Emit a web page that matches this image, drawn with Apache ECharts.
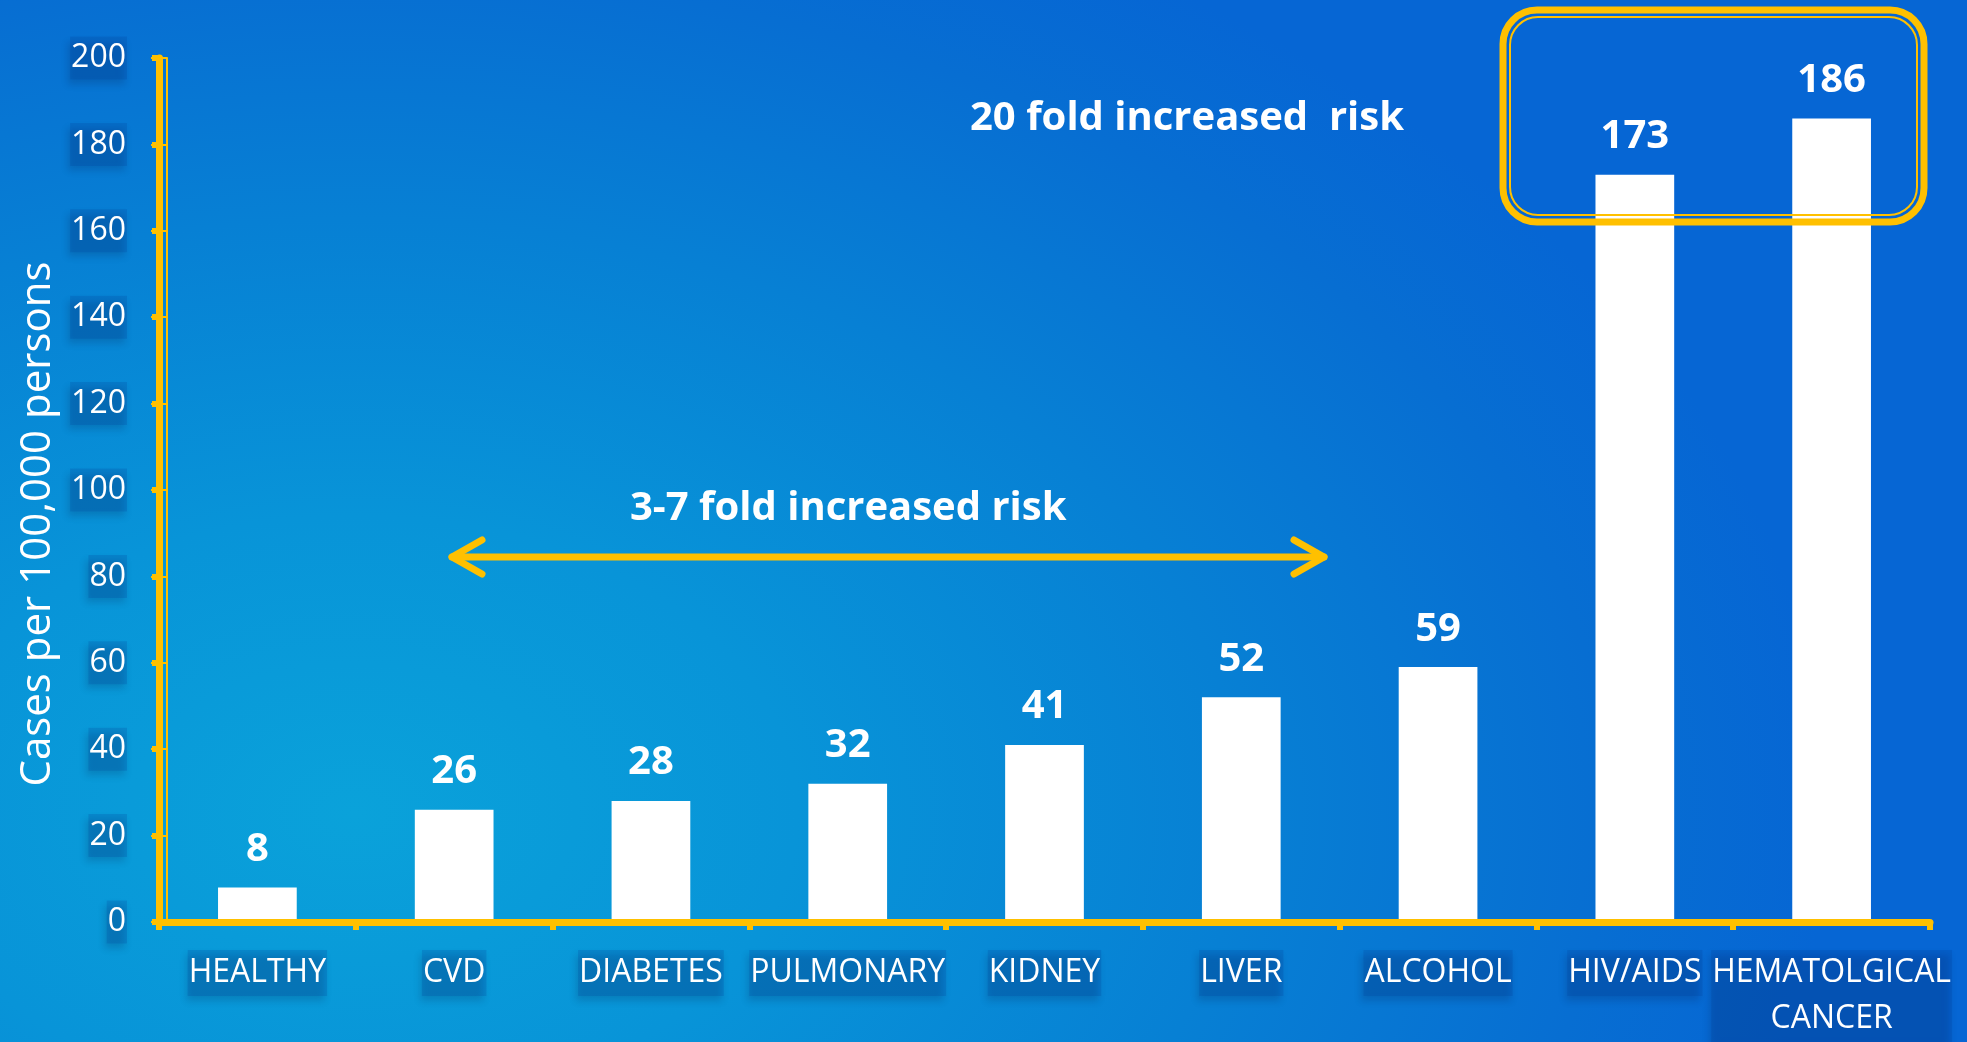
<!DOCTYPE html>
<html>
<head>
<meta charset="utf-8">
<script src="https://cdn.jsdelivr.net/npm/echarts@6/dist/echarts.min.js"></script>
<style>
html,body{margin:0;padding:0;width:1967px;height:1042px;overflow:hidden;}
body{background: radial-gradient(ellipse 75% 95% at 18% 78%, #0aa2da 0%, #0894d8 30%, #0780d4 60%, #076ed2 85%, #0666d4 100%);}
#chart{width:1967px;height:1042px;}
</style>
</head>
<body>
<div id="chart"></div>
<script>
const categories = ['HEALTHY','CVD','DIABETES','PULMONARY','KIDNEY','LIVER','ALCOHOL','HIV/AIDS','HEMATOLGICAL\nCANCER'];
const cases = [8, 26, 28, 32, 41, 52, 59, 173, 186];
const yTicks = {min: 0, max: 200, interval: 20};
const yTitle = 'Cases per 100,000 persons';
const note20 = '20 fold increased  risk';
const note37 = '3-7 fold increased risk';

const YEL = '#FFC000';
const FONT = '"Open Sans", sans-serif';
const boxStyle = {
  backgroundColor: 'rgba(0,60,150,0.2)',
  shadowColor: 'rgba(0,20,60,0.85)',
  shadowBlur: 7,
  shadowOffsetX: -2,
  shadowOffsetY: 5
};

const chart = echarts.init(document.getElementById('chart'), null, {renderer: 'canvas'});
chart.setOption({
  backgroundColor: 'transparent',
  animation: false,
  grid: {left: 159, right: 37, top: 58, bottom: 113},
  xAxis: [{
    type: 'category', data: categories,
    axisLine: {lineStyle: {color: YEL, width: 7}},
    axisTick: {show: true, length: 8, lineStyle: {color: YEL, width: 6}},
    axisLabel: Object.assign({
      interval: 0, color: '#fff', fontFamily: FONT, fontSize: 32, lineHeight: 46,
      margin: 28, padding: [0, 1, 0, 1]
    }, boxStyle),
    z: 3
  }, {
    type: 'category', data: categories, position: 'bottom', offset: 7,
    axisLine: {lineStyle: {color: YEL, width: 2}},
    axisTick: {show: true, length: 6, lineStyle: {color: YEL, width: 2}},
    axisLabel: {show: false}
  }],
  yAxis: [{
    type: 'value', min: yTicks.min, max: yTicks.max, interval: yTicks.interval,
    name: yTitle, nameLocation: 'middle', nameRotate: 90, nameGap: 100,
    nameTextStyle: {color: '#fff', fontFamily: FONT, fontSize: 42, padding: [0, 68, 0, 0]},
    splitLine: {show: false},
    axisLine: {show: true, lineStyle: {color: YEL, width: 7}},
    axisTick: {show: true, length: 7, lineStyle: {color: YEL, width: 6}},
    axisLabel: Object.assign({
      color: '#fff', fontFamily: FONT, fontSize: 32, lineHeight: 36,
      margin: 32, padding: [4, 1, 3, 1]
    }, boxStyle),
    z: 3
  }, {
    type: 'value', min: yTicks.min, max: yTicks.max, interval: yTicks.interval,
    position: 'left', offset: -8,
    splitLine: {show: false},
    axisLine: {show: true, lineStyle: {color: YEL, width: 2}},
    axisTick: {show: true, length: 16, lineStyle: {color: YEL, width: 2}},
    axisLabel: {show: false}
  }],
  series: [{
    type: 'bar', data: cases, xAxisIndex: 0, yAxisIndex: 0,
    barCategoryGap: '60%',
    itemStyle: {color: '#ffffff'},
    label: {show: true, position: 'top', distance: 18, color: '#fff',
      fontFamily: FONT, fontWeight: 'bold', fontSize: 40},
    z: 2
  }],
  graphic: [
    {type: 'text', left: 1185 - 215, top: 117 - 18,
      style: {text: note20, fill: '#fff', font: 'bold 40px "Open Sans", sans-serif'}},
    {type: 'text', left: 848 - 218, top: 507 - 18,
      style: {text: note37, fill: '#fff', font: 'bold 40px "Open Sans", sans-serif'}},
    {type: 'polyline', shape: {points: [[452, 557], [1324, 557]]},
      style: {stroke: YEL, lineWidth: 7, lineCap: 'round'}},
    {type: 'polyline', shape: {points: [[482, 540], [452, 557], [482, 574]]},
      style: {stroke: YEL, fill: null, lineWidth: 7, lineCap: 'round', lineJoin: 'round'}},
    {type: 'polyline', shape: {points: [[1294, 540], [1324, 557], [1294, 574]]},
      style: {stroke: YEL, fill: null, lineWidth: 7, lineCap: 'round', lineJoin: 'round'}},
    {type: 'rect', shape: {x: 1503, y: 10, width: 421, height: 212, r: 34},
      style: {stroke: YEL, fill: null, lineWidth: 7}, z: 10},
    {type: 'rect', shape: {x: 1510, y: 17, width: 407, height: 198, r: 28},
      style: {stroke: YEL, fill: null, lineWidth: 2}, z: 10}
  ]
});
</script>
</body>
</html>
